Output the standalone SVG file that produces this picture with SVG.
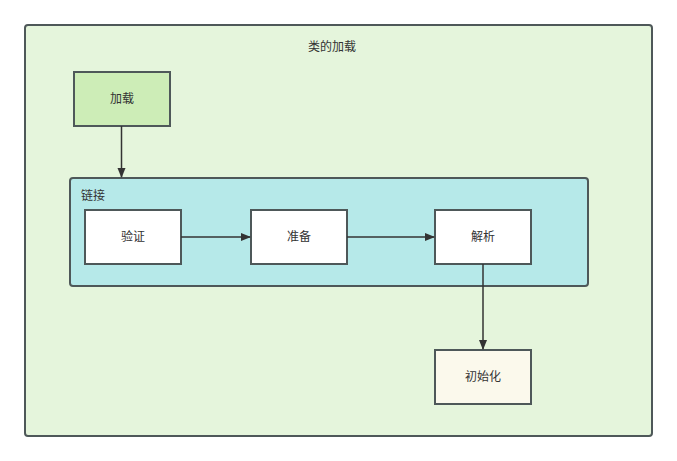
<svg xmlns="http://www.w3.org/2000/svg" width="677" height="461" viewBox="0 0 677 461">
<style>
text{font-family:"Noto Sans CJK SC","Liberation Sans",sans-serif;font-size:12px;fill:#333;}
.b{stroke:#4e5859;stroke-width:2;}
.c{stroke:#333;stroke-width:1.5;fill:none;marker-end:url(#ah);}
</style>
<defs>
<marker id="ah" markerWidth="10" markerHeight="10" refX="9" refY="5" orient="auto" markerUnits="userSpaceOnUse">
<path d="M0,1 L10,5 L0,9 Z" fill="#333"/>
</marker>
</defs>
<rect width="677" height="461" fill="#fff"/>
<g id="outer">
<rect class="b" x="25" y="25" width="627" height="411" rx="3" fill="#e5f5dc"/>
<text x="332" y="51" text-anchor="middle">类的加载</text>
</g>
<g id="load">
<rect class="b" x="74" y="72" width="96" height="54" fill="#cdedb7"/>
<text x="122" y="103" text-anchor="middle">加载</text>
</g>
<g id="link">
<rect class="b" x="70" y="178" width="518" height="108" rx="3" fill="#b6e9e9"/>
<text x="81" y="200">链接</text>
</g>
<g id="verify">
<rect class="b" x="85" y="210" width="96" height="54" fill="#fff"/>
<text x="133" y="241" text-anchor="middle">验证</text>
</g>
<g id="prepare">
<rect class="b" x="251" y="210" width="96" height="54" fill="#fff"/>
<text x="299" y="241" text-anchor="middle">准备</text>
</g>
<g id="resolve">
<rect class="b" x="435" y="210" width="96" height="54" fill="#fff"/>
<text x="483" y="241" text-anchor="middle">解析</text>
</g>
<g id="init">
<rect class="b" x="435" y="350" width="96" height="54" fill="#fbf9ec"/>
<text x="483" y="381" text-anchor="middle">初始化</text>
</g>
<g id="connectors">
<path class="c" d="M121.5,126 V177"/>
<path class="c" d="M181,237 H250"/>
<path class="c" d="M347,237 H434"/>
<path class="c" d="M483,264 V349"/>
</g>
</svg>
